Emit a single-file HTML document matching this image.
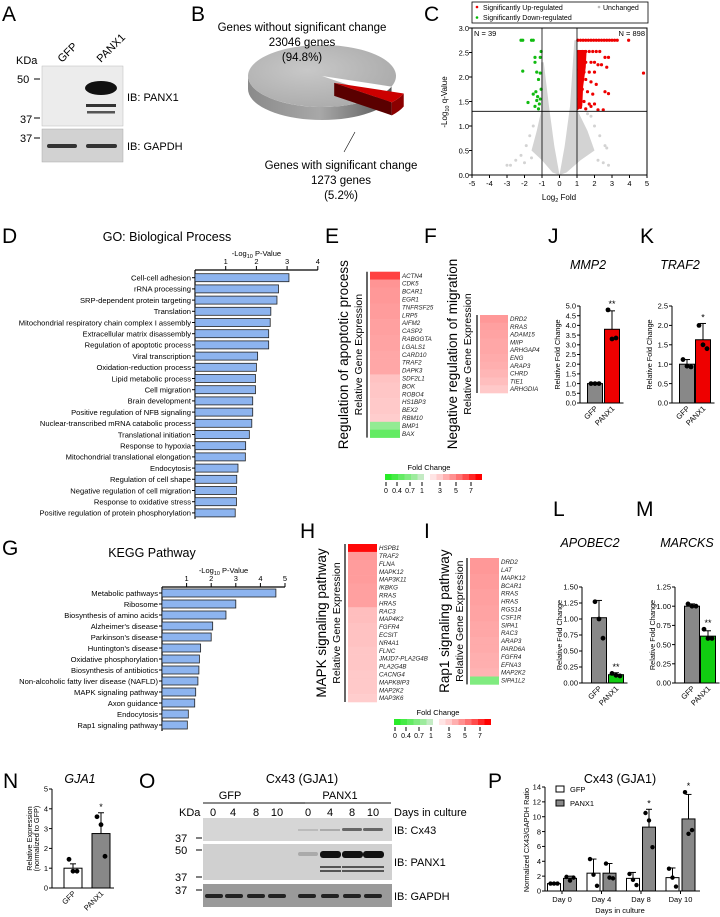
<!DOCTYPE html>
<html><head><meta charset="utf-8">
<style>
html,body{margin:0;padding:0;background:#fff;}
svg{display:block;font-family:"Liberation Sans",Arial,sans-serif;}
</style></head>
<body>
<svg id="fig" width="720" height="917" viewBox="0 0 720 917" xmlns="http://www.w3.org/2000/svg">
<g font-size="21">
<text x="2" y="21">A</text><text x="191" y="21">B</text><text x="424" y="21">C</text>
<text x="2" y="243">D</text><text x="325" y="243">E</text><text x="424" y="243">F</text>
<text x="548" y="243">J</text><text x="640" y="243">K</text>
<text x="2" y="555">G</text><text x="300" y="538">H</text><text x="424" y="538">I</text>
<text x="553" y="516">L</text><text x="636" y="516">M</text>
<text x="3" y="788">N</text><text x="139" y="788">O</text><text x="488" y="788">P</text>
</g>

<g>
<text x="16" y="64" font-size="11">KDa</text>
<text transform="translate(62,63) rotate(-45)" font-size="11">GFP</text>
<text transform="translate(101,63) rotate(-45)" font-size="11">PANX1</text>
<rect x="42" y="66" width="81" height="60" fill="#ececec" stroke="#bbb" stroke-width="0.5"/>
<ellipse cx="101" cy="88" rx="16" ry="7" fill="#111"/>
<rect x="86" y="104" width="30" height="3" fill="#333"/>
<rect x="87" y="111" width="28" height="2.5" fill="#555"/>
<rect x="42" y="129" width="81" height="33" fill="#d2d2d2" stroke="#aaa" stroke-width="0.5"/>
<rect x="47" y="144" width="30" height="4" rx="2" fill="#333"/>
<rect x="86" y="144" width="31" height="4" rx="2" fill="#333"/>
<text x="17" y="83" font-size="11">50</text><line x1="34" y1="79" x2="40" y2="79" stroke="#000"/>
<text x="20" y="123" font-size="11">37</text><line x1="34" y1="118" x2="40" y2="118" stroke="#000"/>
<text x="20" y="142" font-size="11">37</text><line x1="34" y1="138" x2="40" y2="138" stroke="#000"/>
<text x="127" y="101" font-size="11">IB: PANX1</text>
<text x="127" y="150" font-size="11">IB: GAPDH</text>
</g>

<g id="pie">
<defs>
<linearGradient id="gside" x1="0" x2="1"><stop offset="0" stop-color="#8a8a8a"/><stop offset="0.5" stop-color="#a8a8a8"/><stop offset="1" stop-color="#555"/></linearGradient>
<radialGradient id="gtop" cx="0.4" cy="0.4" r="0.7"><stop offset="0" stop-color="#c8c8c8"/><stop offset="1" stop-color="#a9a9a9"/></radialGradient>
</defs>
</g>
<g>
<text x="302" y="31" font-size="11.5" text-anchor="middle">Genes without significant change</text>
<text x="302" y="46" font-size="11.5" text-anchor="middle">23046 genes</text>
<text x="302" y="61" font-size="11.5" text-anchor="middle">(94.8%)</text>
<text x="341" y="169" font-size="11.5" text-anchor="middle">Genes with significant change</text>
<text x="341" y="184" font-size="11.5" text-anchor="middle">1273 genes</text>
<text x="341" y="199" font-size="11.5" text-anchor="middle">(5.2%)</text>
<line x1="355" y1="132" x2="344" y2="152" stroke="#000" stroke-width="0.6"/>
</g>

<g id="volcano"></g>
<g id="goChart"></g>
<g id="keggChart"></g>
<g id="heatmaps"></g>
<g id="barcharts"></g>

<g>
<text x="302" y="783" font-size="12.5" text-anchor="middle">Cx43 (GJA1)</text>
<text x="230" y="799" font-size="11" text-anchor="middle">GFP</text>
<text x="340" y="799" font-size="11" text-anchor="middle">PANX1</text>
<line x1="203" y1="803" x2="305" y2="803" stroke="#444" stroke-width="1.3"/>
<line x1="290" y1="803" x2="391" y2="803" stroke="#444" stroke-width="1.3"/>
<text x="179" y="816" font-size="11">KDa</text>
<g font-size="11" text-anchor="middle">
<text x="213" y="816">0</text><text x="233" y="816">4</text><text x="256" y="816">8</text><text x="277" y="816">10</text>
<text x="308" y="816">0</text><text x="330" y="816">4</text><text x="352" y="816">8</text><text x="373" y="816">10</text>
</g>
<text x="394" y="816" font-size="11">Days in culture</text>
<rect x="203" y="818" width="189" height="23" fill="#d6d6d6"/>
<rect x="203" y="844" width="189" height="36" fill="#d0d0d0"/>
<rect x="203" y="884" width="189" height="23" fill="#9a9a9a"/>
<g fill="#666">
<rect x="342" y="828" width="20" height="3" rx="1.5"/><rect x="363" y="828" width="20" height="3" rx="1.5"/>
<rect x="320" y="829" width="20" height="2" fill="#aaa"/><rect x="298" y="829" width="20" height="2" fill="#bbb"/>
</g>
<g fill="#111">
<rect x="320" y="851" width="21" height="7" rx="3"/><rect x="342" y="851" width="21" height="7" rx="3"/><rect x="363" y="851" width="21" height="7" rx="3"/>
<rect x="298" y="852" width="20" height="4" rx="2" fill="#aaa"/>
</g>
<g fill="#555">
<rect x="320" y="866" width="21" height="2"/><rect x="342" y="866" width="21" height="2"/><rect x="363" y="866" width="21" height="2"/>
<rect x="320" y="870" width="21" height="2"/><rect x="342" y="870" width="21" height="2"/><rect x="363" y="870" width="21" height="2"/>
</g>
<g fill="#222">
<rect x="205" y="894" width="18" height="4" rx="2"/><rect x="225" y="894" width="18" height="4" rx="2"/><rect x="247" y="894" width="18" height="4" rx="2"/><rect x="268" y="894" width="18" height="4" rx="2"/>
<rect x="298" y="894" width="18" height="4" rx="2"/><rect x="321" y="894" width="18" height="4" rx="2"/><rect x="343" y="894" width="18" height="4" rx="2"/><rect x="364" y="894" width="18" height="4" rx="2"/>
</g>
<g font-size="11">
<text x="175" y="842">37</text><line x1="196" y1="838" x2="202" y2="838" stroke="#000"/>
<text x="175" y="854">50</text><line x1="196" y1="850" x2="202" y2="850" stroke="#000"/>
<text x="175" y="881">37</text><line x1="196" y1="877" x2="202" y2="877" stroke="#000"/>
<text x="175" y="894">37</text><line x1="196" y1="890" x2="202" y2="890" stroke="#000"/>
</g>
<text x="394" y="834" font-size="11">IB: Cx43</text>
<text x="394" y="866" font-size="11">IB: PANX1</text>
<text x="394" y="900" font-size="11">IB: GAPDH</text>
</g>
</svg>

<script>
// ---------- DATA ----------
const pieValues = [23046, 1273];

const volcUpX = [1.05,1.2,1.35,1.5,1.65,1.8,1.95,2.1,2.25,2.4,2.55,2.7,2.85,3.0,3.15,3.3,3.95,1.1,1.3,1.5,1.7,1.9,2.1,2.3,2.6,2.8,1.2,1.5,1.8,2.0,2.2,2.4,1.1,1.4,1.7,2.0,2.7,1.2,1.5,1.8,2.1,1.3,1.6,1.9,2.6,2.8,1.1,1.4,1.7,2.0,1.2,1.5,1.8,2.2,2.5,4.8];
const volcUpY = [2.75,2.75,2.75,2.75,2.75,2.75,2.75,2.75,2.75,2.75,2.75,2.75,2.75,2.75,2.75,2.75,2.75,2.52,2.52,2.52,2.52,2.52,2.52,2.52,2.4,2.4,2.3,2.3,2.3,2.3,2.25,2.25,2.15,2.1,2.1,2.1,2.2,1.95,1.95,1.9,1.85,1.75,1.7,1.65,1.7,1.66,1.55,1.5,1.45,1.45,1.38,1.35,1.4,1.33,1.33,2.08];
const volcDownX = [-2.2,-2.1,-1.6,-1.5,-1.05,-1.4,-1.1,-1.4,-2.1,-1.3,-1.1,-1.2,-1.5,-1.35,-1.25,-1.05,-1.8,-1.3,-1.15,-1.4,-1.2,-1.1];
const volcDownY = [2.75,2.75,2.75,2.75,2.52,2.4,2.4,2.3,2.12,2.1,2.08,1.95,1.65,1.7,1.6,1.75,1.48,1.52,1.45,1.4,1.35,1.55];
const grayLeftX = [0,-0.4,-1.0,-1.6,-1.3,-1.05,-1.05,-0.9,-0.6,-0.3,-0.05];
const grayLeftY = [0,0.05,0.3,0.5,0.9,1.3,2.3,2.3,1.4,0.6,0.1];
const grayRightX = [0,0.4,1.2,2.0,1.6,1.05,1.0,0.85,0.6,0.3,0.05];
const grayRightY = [0,0.05,0.3,0.5,0.9,1.3,2.75,2.75,1.4,0.6,0.1];
const grayDotX = [-3.0,-2.8,-2.5,-2.2,-1.9,-1.7,-1.5,2.2,2.5,2.8,2.6,2.3,2.0,1.8,2.7,1.6,-1.6,-2.0];
const grayDotY = [0.2,0.2,0.3,0.4,0.6,0.8,1.0,0.3,0.25,0.2,0.6,0.8,1.0,1.2,0.55,1.25,0.35,0.25];
const volcXTicks = [-5,-4,-3,-2,-1,0,1,2,3,4,5];
const volcYTicks = [0,0.5,1,1.5,2,2.5,3];

const goLabels = ["Cell-cell adhesion","rRNA processing","SRP-dependent protein targeting","Translation","Mitochondrial respiratory chain complex I assembly","Extracellular matrix disassembly","Regulation of apoptotic process","Viral transcription","Oxidation-reduction process","Lipid metabolic process","Cell migration","Brain development","Positive regulation of NFB signaling","Nuclear-transcribed mRNA catabolic process","Translational initiation","Response to hypoxia","Mitochondrial translational elongation","Endocytosis","Regulation of cell shape","Negative regulation of cell migration","Response to oxidative stress","Positive regulation of protein phosphorylation"];
const goValues = [3.06,2.72,2.67,2.47,2.45,2.4,2.4,2.04,2.0,1.97,1.97,1.88,1.88,1.85,1.77,1.65,1.64,1.4,1.36,1.35,1.35,1.31];
const goTicks = [1,2,3,4];

const keggLabels = ["Metabolic pathways","Ribosome","Biosynthesis of amino acids","Alzheimer's disease","Parkinson's disease","Huntington's disease","Oxidative phosphorylation","Biosynthesis of antibiotics","Non-alcoholic fatty liver disease (NAFLD)","MAPK signaling pathway","Axon guidance","Endocytosis","Rap1 signaling pathway"];
const keggValues = [4.63,3.0,2.6,2.06,2.0,1.57,1.52,1.5,1.46,1.37,1.33,1.07,1.03];
const keggTicks = [1,2,3,4,5];

const eGenes = ["ACTN4","CDK5","BCAR1","EGR1","TNFRSF25","LRP5","AIFM2","CASP2","RABGGTA","LGALS1","CARD10","TRAF2","DAPK3","SDF2L1","BOK","ROBO4","HS1BP3","BEX2","RBM10","BMP1","BAX"];
const eFold = [5.3,3.1,3.0,3.0,2.9,2.9,2.8,2.8,2.7,2.7,2.6,2.6,2.6,1.9,1.8,1.8,1.7,1.7,1.6,0.55,0.3];
const fGenes = ["DRD2","RRAS","ADAM15","MIIP","ARHGAP4","ENG","ARAP3","CHRD","TIE1","ARHGDIA"];
const fFold = [3.0,2.8,2.7,2.6,2.6,2.5,2.4,2.2,2.0,1.7];
const hGenes = ["HSPB1","TRAF2","FLNA","MAPK12","MAP3K11","IKBKG","RRAS","HRAS","RAC3","MAP4K2","FGFR4","ECSIT","NR4A1","FLNC","JMJD7-PLA2G4B","PLA2G4B","CACNG4","MAPK8IP3","MAP2K2","MAP3K6"];
const hFold = [6.8,3.0,2.9,2.9,2.9,2.8,2.8,2.8,2.0,2.0,1.9,1.9,1.9,1.8,1.8,1.8,1.7,1.7,1.7,1.6];
const iGenes = ["DRD2","LAT","MAPK12","BCAR1","RRAS","HRAS","RGS14","CSF1R","SIPA1","RAC3","ARAP3","PARD6A","FGFR4","EFNA3","MAP2K2","SIPA1L2"];
const iFold = [3.0,3.0,2.9,2.9,2.8,2.8,2.7,2.7,2.6,2.6,2.5,2.5,2.4,2.4,2.3,0.45];
const legendFold = [0,0.15,0.3,0.45,0.6,0.8,1,1.6,2.4,3.2,4,5,6,7];
const legendTickVals = ["0","0.4","0.7","1","3","5","7"];

const groups = ["GFP","PANX1"];
const mmp2Mean = [1.0,3.8], mmp2Err = [0.05,0.95], mmp2Pts = [[1.0,1.0,1.0],[4.8,3.3,3.35]];
const traf2Mean = [1.0,1.63], traf2Err = [0.12,0.42], traf2Pts = [[1.12,0.95,0.93],[2.0,1.5,1.4]];
const apobecMean = [1.02,0.13], apobecErr = [0.27,0.03], apobecPts = [[1.27,1.0,0.7],[0.15,0.12,0.11]];
const marcksMean = [1.0,0.61], marcksErr = [0.03,0.07], marcksPts = [[1.03,1.0,1.0],[0.7,0.58,0.58]];
const gja1Mean = [1.0,2.75], gja1Err = [0.22,1.05], gja1Pts = [[1.45,0.85,0.85],[3.6,3.2,1.6]];
const ticks5 = [0,0.5,1,1.5,2,2.5,3,3.5,4,4.5,5];
const ticks25 = [0,0.5,1,1.5,2,2.5];
const ticks150 = [0,0.25,0.5,0.75,1,1.25,1.5];
const ticks125 = [0,0.25,0.5,0.75,1,1.25];
const ticksN = [0,1,2,3,4,5];

const pDays = ["Day 0","Day 4","Day 8","Day 10"];
const pGfpMean = [1.0,2.4,1.7,1.8], pGfpErr = [0.1,1.9,0.8,1.3];
const pPanxMean = [1.7,2.4,8.6,9.7], pPanxErr = [0.3,1.3,2.4,3.3];
const pGfpPts = [[1.0,1.0,1.0],[4.3,2.2,0.7],[2.3,1.5,0.8],[3.0,1.8,0.6]];
const pPanxPts = [[1.9,1.4,1.8],[3.7,1.8,1.7],[10.5,9.5,5.9],[13.3,7.7,8.2]];
const pTicks = [0,2,4,6,8,10,12,14];

// ---------- HELPERS ----------
const NS = "http://www.w3.org/2000/svg";
function mk(tag, attrs, parent){
  const el = document.createElementNS(NS, tag);
  for (const k in attrs) el.setAttribute(k, attrs[k]);
  parent.appendChild(el);
  return el;
}
function txt(str, attrs, parent){
  const t = mk("text", attrs, parent);
  t.textContent = str;
  return t;
}
function foldColor(f){
  if (f >= 1){
    const t = Math.min(1,(f-1)/6);
    const g = Math.round(228*(1-t));
    return "rgb(255,"+g+","+g+")";
  }
  const t = Math.max(0,f);
  const v = Math.round(40+195*t);
  return "rgb("+v+",235,"+v+")";
}

// ---------- PIE ----------
(function(){
  const g = document.getElementById("pie");
  const total = pieValues[0]+pieValues[1];
  const frac = pieValues[1]/total;
  const cx=322, cy=76, rx=74, ry=31, d=13;
  const a0 = 20*Math.PI/180, a1 = a0 + frac*2*Math.PI;
  const side = mk("path",{d:"M"+(cx-rx)+","+cy+" A"+rx+","+ry+" 0 0 0 "+(cx+rx*Math.cos(a0))+","+(cy+ry*Math.sin(a0))+" L"+(cx+rx*Math.cos(a0))+","+(cy+ry*Math.sin(a0)+d)+" A"+rx+","+ry+" 0 0 1 "+(cx-rx)+","+(cy+d)+" Z",fill:"url(#gside)"},g);
  
  
  const top = mk("path",{d:"M"+cx+","+cy+" L"+(cx+rx*Math.cos(a1))+","+(cy+ry*Math.sin(a1))+" A"+rx+","+ry+" 0 1 1 "+(cx+rx*Math.cos(a0))+","+(cy+ry*Math.sin(a0))+" Z",fill:"url(#gtop)"},g);
  
  
  const mid=(a0+a1)/2, ox=cx+14*Math.cos(mid), oy=cy+14*Math.sin(mid);
  const p0x=ox+rx*Math.cos(a0), p0y=oy+ry*Math.sin(a0), p1x=ox+rx*Math.cos(a1), p1y=oy+ry*Math.sin(a1);
  const rs = mk("path",{d:"M"+ox+","+oy+" L"+p1x+","+p1y+" L"+p1x+","+(p1y+d)+" L"+ox+","+(oy+d)+" Z",fill:"#5a0000"},g);
  
  
  const rs2 = mk("path",{d:"M"+p0x+","+p0y+" A"+rx+","+ry+" 0 0 1 "+p1x+","+p1y+" L"+p1x+","+(p1y+d)+" A"+rx+","+ry+" 0 0 0 "+p0x+","+(p0y+d)+" Z",fill:"#8b0000"},g);
  
  
  const rt = mk("path",{d:"M"+ox+","+oy+" L"+p0x+","+p0y+" A"+rx+","+ry+" 0 0 1 "+p1x+","+p1y+" Z",fill:"#cc0000"},g);
  
  
})();

// ---------- VOLCANO ----------
(function(){
  const g = document.getElementById("volcano");
  const L=472,R=647,T=28,B=175;
  const sx = v => L + (v+5)/10*(R-L);
  const sy = v => B - v/3*(B-T);
  const lg = mk("rect",{x:472,y:2,width:176,height:21,fill:"#fff",stroke:"#000","stroke-width":0.8},g);
  
  
  mk("circle",{cx:477,cy:7,r:1.3,fill:"#e00"},g);
  txt("Significantly Up-regulated",{x:483,y:10,"font-size":7},g);
  mk("circle",{cx:477,cy:17.5,r:1.3,fill:"#0b0"},g);
  txt("Significantly Down-regulated",{x:483,y:20,"font-size":7},g);
  mk("circle",{cx:599,cy:7,r:1.3,fill:"#bbb"},g);
  txt("Unchanged",{x:603,y:10,"font-size":7},g);
  const gl = mk("polygon",{points:grayLeftX.map((x,i)=>sx(x)+","+sy(grayLeftY[i])).join(" "),fill:"#d3d3d3"},g);
  
  
  const gr = mk("polygon",{points:grayRightX.map((x,i)=>sx(x)+","+sy(grayRightY[i])).join(" "),fill:"#d3d3d3"},g);
  
  
  grayDotX.forEach((x,i)=>{
    const c = mk("circle",{cx:sx(x),cy:sy(grayDotY[i]),r:1.5,fill:"#d3d3d3"},g);
    
    
  });
  const dense = mk("polygon",{points:[[1.02,1.32],[1.02,2.55],[1.55,2.55],[1.5,2.2],[1.35,1.8],[1.3,1.4]].map(p=>sx(p[0])+","+sy(p[1])).join(" "),fill:"#ee0000"},g);
  
  
  volcUpX.forEach((x,i)=>{
    const c = mk("circle",{cx:sx(x),cy:sy(volcUpY[i]),r:1.6,fill:"#ee0000"},g);
    
    
  });
  volcDownX.forEach((x,i)=>{
    const c = mk("circle",{cx:sx(x),cy:sy(volcDownY[i]),r:1.6,fill:"#11bb11"},g);
    
    
  });
  mk("rect",{x:L,y:T,width:R-L,height:B-T,fill:"none",stroke:"#000","stroke-width":1},g);
  mk("line",{x1:sx(-1),y1:T,x2:sx(-1),y2:B,stroke:"#000","stroke-width":0.8},g);
  mk("line",{x1:sx(1),y1:T,x2:sx(1),y2:B,stroke:"#000","stroke-width":0.8},g);
  mk("line",{x1:L,y1:sy(1.3),x2:R,y2:sy(1.3),stroke:"#000","stroke-width":0.8},g);
  volcXTicks.forEach(v=>{
    mk("line",{x1:sx(v),y1:B,x2:sx(v),y2:B+3,stroke:"#000"},g);
    const t = txt(String(v),{x:sx(v),y:B+11,"font-size":7.5,"text-anchor":"middle"},g);
    
    
  });
  volcYTicks.forEach(v=>{
    mk("line",{x1:L-3,y1:sy(v),x2:L,y2:sy(v),stroke:"#000"},g);
    const t = txt(v.toFixed(1),{x:L-3,y:sy(v)+3,"font-size":7.5,"text-anchor":"end"},g);
    
    
  });
  txt("N = 39",{x:474,y:36,"font-size":7.5},g);
  txt("N = 898",{x:645,y:36,"font-size":7.5,"text-anchor":"end"},g);
  const xt = mk("text",{x:559,y:200,"font-size":8,"text-anchor":"middle"},g);
  xt.innerHTML = 'Log<tspan font-size="5.5" dy="2">2</tspan><tspan dy="-2"> Fold</tspan>';
  
  
  const yt = mk("text",{transform:"translate(447,102) rotate(-90)","font-size":8,"text-anchor":"middle"},g);
  yt.innerHTML = '-Log<tspan font-size="5.5" dy="2">10</tspan><tspan dy="-2"> q-Value</tspan>';
  
  
})();

// ---------- HORIZONTAL BARS ----------
function hbar(g, title, titleX, titleY, labels, values, ticks, x0, unit, yStart, step, axisY, maxV){
  txt(title,{x:titleX,y:titleY,"font-size":12.5,"text-anchor":"middle"},g);
  const ax = mk("text",{x:x0+unit*maxV/2,y:axisY-14,"font-size":7.5,"text-anchor":"middle"},g);
  ax.innerHTML = '-Log<tspan font-size="5.5" dy="2">10</tspan><tspan dy="-2"> P-Value</tspan>';
  
  
  mk("line",{x1:x0,y1:axisY,x2:x0+unit*maxV,y2:axisY,stroke:"#000","stroke-width":1.2},g);
  const yEnd = yStart + step*(labels.length-1) + 6;
  mk("line",{x1:x0,y1:axisY,x2:x0,y2:yEnd,stroke:"#000","stroke-width":1.2},g);
  ticks.forEach(v=>{
    mk("line",{x1:x0+unit*v,y1:axisY,x2:x0+unit*v,y2:axisY-4,stroke:"#000"},g);
    const t = txt(String(v),{x:x0+unit*v,y:axisY-6,"font-size":7.5,"text-anchor":"middle"},g);
    
    
  });
  labels.forEach((lab,i)=>{
    const cy = yStart + i*step;
    const r = mk("rect",{x:x0,y:cy-4,width:unit*values[i],height:8,fill:"#8db4ef",stroke:"#222","stroke-width":0.8},g);
    
    
    mk("line",{x1:x0-3,y1:cy,x2:x0,y2:cy,stroke:"#000"},g);
    const t = txt(lab,{x:x0-4,y:cy+2.8,"font-size":7.6,"text-anchor":"end"},g);
    
    
  });
}
hbar(document.getElementById("goChart"),"GO: Biological Process",167,241,goLabels,goValues,goTicks,195,30.7,277.7,11.2,270,4);
hbar(document.getElementById("keggChart"),"KEGG Pathway",152,557,keggLabels,keggValues,keggTicks,162,24.6,593,11,587,5);

// ---------- HEATMAPS ----------
function heatmap(g, x, y, w, rh, genes, fold, title, titleX, subX){
  const h = rh*genes.length;
  genes.forEach((gn,i)=>{
    const r = mk("rect",{x:x,y:y+i*rh,width:w,height:rh+0.3,fill:foldColor(fold[i])},g);
    
    
    const t = txt(gn,{x:x+w+2,y:y+i*rh+rh-1.8,"font-size":6.2,"font-style":"italic",fill:"#222"},g);
    
    
  });
  mk("line",{x1:x-3,y1:y,x2:x-3,y2:y+h,stroke:"#000","stroke-width":1.2},g);
  const cy = y + h/2;
  const t1 = txt(title,{transform:"translate("+titleX+","+cy+") rotate(-90)","font-size":13.5,"text-anchor":"middle"},g);
  
  
  const t2 = txt("Relative Gene Expression",{transform:"translate("+subX+","+cy+") rotate(-90)","font-size":10.5,"text-anchor":"middle"},g);
  
  
}
function legend(g, x, y){
  txt("Fold Change",{x:x+44,y:y-4,"font-size":7.5,"text-anchor":"middle"},g);
  let cx = x;
  legendFold.forEach((f,i)=>{
    if (i===6) cx += 6;
    const r = mk("rect",{x:cx,y:y,width:6.5,height:6,fill:foldColor(f)},g);
    
    
    cx += 6.5;
  });
  const tx = [x+1,x+12,x+25,x+37,x+55,x+71,x+86];
  legendTickVals.forEach((v,i)=>{
    mk("line",{x1:tx[i],y1:y+8,x2:tx[i],y2:y+12,stroke:"#000"},g);
    txt(v,{x:tx[i],y:y+19,"font-size":7,"text-anchor":"middle"},g);
  });
}
(function(){
  const g = document.getElementById("heatmaps");
  heatmap(g,370,271.7,30,7.9,eGenes,eFold,"Regulation of apoptotic process",348,362);
  heatmap(g,480,315,28,7.8,fGenes,fFold,"Negative regulation of migration",457,471);
  heatmap(g,348,544,29,7.9,hGenes,hFold,"MAPK signaling pathway",326,340);
  heatmap(g,470,558,29,7.9,iGenes,iFold,"Rap1 signaling pathway",449,463);
  legend(g,385,474);
  legend(g,394,719);
})();

// ---------- VERTICAL BAR CHARTS ----------
function vbar(g, title, titleX, titleY, axX, yTop, yBot, maxV, ticks, decimals, means, errs, pts, colors, firstCx, gap, bw, ylab, stars, ylab2){
  const sy = v => yBot - v/maxV*(yBot-yTop);
  const tt = txt(title,{x:titleX,y:titleY,"font-size":12.5,"font-style":"italic","text-anchor":"middle"},g);
  
  
  mk("line",{x1:axX,y1:yTop,x2:axX,y2:yBot,stroke:"#000","stroke-width":1},g);
  mk("line",{x1:axX,y1:yBot,x2:firstCx+gap+bw/2+4,y2:yBot,stroke:"#000","stroke-width":1},g);
  ticks.forEach(v=>{
    mk("line",{x1:axX-3,y1:sy(v),x2:axX,y2:sy(v),stroke:"#000"},g);
    const t = txt(v.toFixed(decimals),{x:axX-4,y:sy(v)+2.7,"font-size":7.5,"text-anchor":"end"},g);
    
    
  });
  means.forEach((m,i)=>{
    const cx = firstCx + i*gap;
    mk("line",{x1:cx,y1:sy(m),x2:cx,y2:sy(m+errs[i]),stroke:"#000"},g);
    mk("line",{x1:cx-3,y1:sy(m+errs[i]),x2:cx+3,y2:sy(m+errs[i]),stroke:"#000"},g);
    const r = mk("rect",{x:cx-bw/2,y:sy(m),width:bw,height:yBot-sy(m),fill:colors[i],stroke:"#000","stroke-width":1},g);
    
    
    pts[i].forEach((p,j)=>{
      const c = mk("circle",{cx:cx+(j-1)*4,cy:sy(p),r:2.4,fill:"#000"},g);
      
      
    });
    const xl = txt(groups[i],{transform:"translate("+(cx+3)+","+(yBot+6)+") rotate(-45)","font-size":7.5,"text-anchor":"end"},g);
    
    
  });
  if (stars){
    const cx = firstCx + gap;
    const top = Math.max(means[1]+errs[1], Math.max.apply(null,pts[1]));
    txt(stars,{x:cx,y:sy(top)-3,"font-size":9,"text-anchor":"middle"},g);
  }
  const yl = txt(ylab,{transform:"translate("+(axX-20)+","+((yTop+yBot)/2)+") rotate(-90)","font-size":7.3,"text-anchor":"middle"},g);
  
  
  if (ylab2){
    const y2 = txt(ylab2,{transform:"translate("+(axX-13)+","+((yTop+yBot)/2)+") rotate(-90)","font-size":7.3,"text-anchor":"middle"},g);
    
    
  }
}
(function(){
  const g = document.getElementById("barcharts");
  vbar(g,"MMP2",588,269,580,306,403,5,ticks5,1,mmp2Mean,mmp2Err,mmp2Pts,["#888","#ee0000"],595,17,15,"Relative Fold Change","**");
  vbar(g,"TRAF2",680,269,672,306,403,2.5,ticks25,1,traf2Mean,traf2Err,traf2Pts,["#888","#ee0000"],687,16,15,"Relative Fold Change","*");
  vbar(g,"APOBEC2",590,547,582,587,683,1.5,ticks150,2,apobecMean,apobecErr,apobecPts,["#888","#11cc11"],599,17,15,"Relative Fold Change","**");
  vbar(g,"MARCKS",687,547,675,587,683,1.25,ticks125,2,marcksMean,marcksErr,marcksPts,["#888","#11cc11"],692,16,15,"Relative Fold Change","**");
  vbar(g,"GJA1",80,783,52,789,888,5,ticksN,0,gja1Mean,gja1Err,gja1Pts,["#fff","#888"],73,28,18,"Relative Expression","*","(normalized to GFP)");
})();

// ---------- PANEL P ----------
(function(){
  const g = document.getElementById("barcharts");
  const axX=545, yTop=787, yBot=891, maxV=14;
  const sy = v => yBot - v/maxV*(yBot-yTop);
  txt("Cx43 (GJA1)",{x:620,y:783,"font-size":12.5,"text-anchor":"middle"},g);
  mk("line",{x1:axX,y1:yTop,x2:axX,y2:yBot,stroke:"#000"},g);
  mk("line",{x1:axX,y1:yBot,x2:700,y2:yBot,stroke:"#000"},g);
  pTicks.forEach(v=>{
    mk("line",{x1:axX-3,y1:sy(v),x2:axX,y2:sy(v),stroke:"#000"},g);
    const t = txt(String(v),{x:axX-4,y:sy(v)+2.7,"font-size":7.5,"text-anchor":"end"},g);
    
    
  });
  pDays.forEach((d,i)=>{
    const gc = 562 + i*39.5;
    [[pGfpMean,pGfpErr,pGfpPts,"#fff",-8],[pPanxMean,pPanxErr,pPanxPts,"#888",8]].forEach((s,k)=>{
      const cx = gc + s[4];
      const m = s[0][i], e = s[1][i];
      mk("line",{x1:cx,y1:sy(m),x2:cx,y2:sy(m+e),stroke:"#000"},g);
      mk("line",{x1:cx-3,y1:sy(m+e),x2:cx+3,y2:sy(m+e),stroke:"#000"},g);
      const r = mk("rect",{x:cx-6.5,y:sy(m),width:13,height:yBot-sy(m),fill:s[3],stroke:"#000"},g);
      
      
      s[2][i].forEach((p,j)=>{
        const c = mk("circle",{cx:cx+(j-1)*3.5,cy:sy(p),r:2.2,fill:"#000"},g);
        
        
      });
    });
    mk("line",{x1:gc,y1:yBot,x2:gc,y2:yBot+3,stroke:"#000"},g);
    const t = txt(d,{x:gc,y:yBot+11,"font-size":7.5,"text-anchor":"middle"},g);
    
    
    if (i>=2){
      txt("*",{x:gc+8,y:sy(Math.max(pPanxMean[i]+pPanxErr[i],Math.max.apply(null,pPanxPts[i])))-3,"font-size":9,"text-anchor":"middle"},g);
    }
  });
  txt("Days in culture",{x:620,y:913,"font-size":7.5,"text-anchor":"middle"},g);
  const yl = txt("Normalized CX43/GAPDH Ratio",{transform:"translate(529,840) rotate(-90)","font-size":7.3,"text-anchor":"middle"},g);
  
  
  const l1 = mk("rect",{x:556,y:786,width:8,height:6,fill:"#fff",stroke:"#000"},g);
  
  
  txt("GFP",{x:570,y:792,"font-size":7.5},g);
  const l2 = mk("rect",{x:556,y:800,width:8,height:6,fill:"#888",stroke:"#000"},g);
  
  
  txt("PANX1",{x:570,y:806,"font-size":7.5},g);
})();
</script>
</body></html>
